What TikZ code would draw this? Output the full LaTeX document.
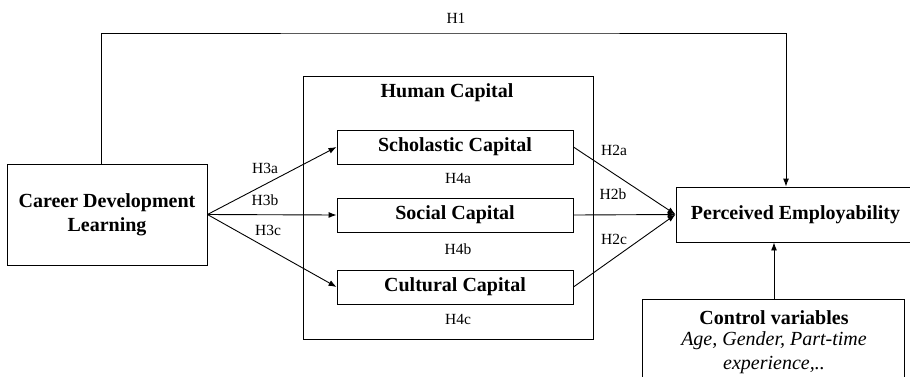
\documentclass[tikz,border=0pt]{standalone}
\usepackage{fontspec}
\setmainfont{Liberation Serif}
\usetikzlibrary{arrows.meta}
\begin{document}
\begin{tikzpicture}[x=1pt,y=-1pt,
  box/.style={draw, line width=0.9pt, inner sep=0pt, align=center,
    font=\fontsize{20}{24}\selectfont\bfseries},
  lbl/.style={font=\fontsize{15.5}{18}\selectfont, inner sep=0pt},
  arr/.style={line width=0.9pt, -{Latex[length=8pt,width=6pt]}},
  ln/.style={line width=0.9pt}]
\useasboundingbox (0,0) rectangle (910,376);
\clip (0,0) rectangle (910,376);
% nodes
\node[box, minimum width=200pt, minimum height=101pt] (cdl) at (107,214.5) {Career Development\\Learning};
\node[draw, line width=0.9pt, inner sep=0pt, minimum width=290pt, minimum height=263pt] (hc) at (448,207.5) {};
\node[font=\fontsize{20}{24}\selectfont\bfseries, inner sep=0pt] (hct) at (447,93) {Human Capital};
\node[box, minimum width=236pt, minimum height=34pt] (sch) at (455,147) {Scholastic Capital};
\node[box, minimum width=236pt, minimum height=34pt] (soc) at (455,215) {Social Capital};
\node[box, minimum width=236pt, minimum height=34pt] (cul) at (455,287) {Cultural Capital};
\node[box, minimum width=239pt, minimum height=55pt] (pe) at (795.5,214.5) {Perceived Employability};
\node[draw, line width=0.9pt, inner sep=0pt, minimum width=262pt, minimum height=91pt] (ctrl) at (773,344.5) {};
\node[font=\fontsize{20}{24}\selectfont\bfseries, inner sep=0pt] (ctrlt) at (774,318) {Control variables};
\node[font=\fontsize{20}{24}\selectfont\itshape, inner sep=0pt, align=center] (ctrlv) at (774,353) {Age, Gender, Part-time\\experience,..};
% H1 path
\coordinate (h1) at (456,33);
\draw[arr] ([xshift=-6pt]cdl.north) |- (h1) -| ([xshift=-9.5pt]pe.north);
\node[lbl] (lh1) at (456,18) {H1};
% H3 arrows
\draw[arr] (cdl.east) -- (sch.west);
\draw[arr] (cdl.east) -- (soc.west);
\draw[arr] (cdl.east) -- (cul.west);
% H2 arrows
\draw[arr] (sch.east) -- (pe.west);
\draw[arr] (soc.east) -- (pe.west);
\draw[arr] (cul.east) -- (pe.west);
% control arrow
\draw[arr] (ctrl.north -| 774,0) -- (pe.south -| 774,0);
% labels
\node[lbl] (l3a) at (265,168) {H3a};
\node[lbl] (l3b) at (265,200) {H3b};
\node[lbl] (l3c) at (268,230) {H3c};
\node[lbl] (l2a) at (614,150) {H2a};
\node[lbl] (l2b) at (613,194) {H2b};
\node[lbl] (l2c) at (614,239) {H2c};
\node[lbl] (l4a) at (458,178) {H4a};
\node[lbl] (l4b) at (458,249) {H4b};
\node[lbl] (l4c) at (458,319) {H4c};
\end{tikzpicture}
\end{document}
